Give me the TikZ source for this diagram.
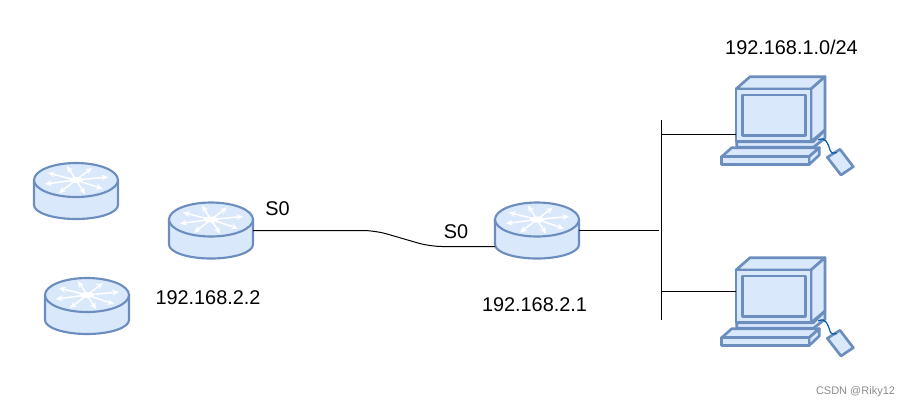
\documentclass[tikz,border=0pt]{standalone}
\usepackage{fontspec}
\setmainfont{Liberation Sans}
\usetikzlibrary{arrows.meta}
\definecolor{devfill}{HTML}{DAE8FC}
\definecolor{devline}{HTML}{6C8EBF}
\tikzset{
  devshape/.style={fill=devfill,draw=devline,line width=1.6pt,line join=round},
  pcshape/.style={devshape,line width=2pt},
  anchorbox/.style={draw=none,fill=none,inner sep=0pt,outer sep=0pt},
  routerbox/.style={anchorbox,minimum width=63pt,minimum height=42pt},
  pcbox/.style={anchorbox,minimum width=67.5pt,minimum height=75pt},
  wire/.style={draw=black,line width=0.75pt},
  tagtext/.style={font=\fontsize{14.9}{17}\selectfont,inner sep=0pt,text=black},
  wmtext/.style={font=\fontsize{8.25}{10}\selectfont,inner sep=0pt,text=black!45},
  ray/.style={draw=white,line width=1.1pt,-{Stealth[length=5pt,width=4.5pt]}},
  router/.pic={
    \path[devshape] (-42,-11) -- (-42,14) arc[start angle=180,end angle=0,x radius=42,y radius=14] -- (42,-11) -- cycle;
    \path[devshape] (0,-11) ellipse[x radius=42,y radius=17];
    \foreach \dx/\dy in {-9/-14,16/-12,32/-3,27/9,9/14,-17/13,-31/4,-28/-7}
      \draw[ray] (0,-11) -- ++(\dx,\dy);
    \fill[white] (0,-11) ellipse[x radius=7,y radius=3];
  },
  computer/.pic={
    \path[pcshape] (36,29) -- (50,16.7) -- (125,16.7) -- (111,29) -- cycle;
    \path[pcshape] (111,29) -- (125,16.7) -- (125,70) -- (111,81.7) -- cycle;
    \path[pcshape] (36,29) rectangle (111,81.7);
    \path[pcshape] (42.7,35) rectangle (105.3,75.7);
    \path[pcshape] (36.7,81.7) -- (36.7,87.3) -- (113.3,87.3) -- (125,78.3) -- (125,70) -- (113.3,81.7) -- cycle;
    \path[pcshape] (21.7,96.7) -- (31.7,87.7) -- (119.3,87.7) -- (109,96.7) -- cycle;
    \path[pcshape] (109,96.7) -- (119.3,87.7) -- (119.3,95) -- (109,104.7) -- cycle;
    \path[pcshape] (21.7,96.7) rectangle (109,104.7);
    \path[pcshape] (127.3,97.3) -- (140,89.3) -- (153.3,106.7) -- (141,115) -- cycle;
    \draw[draw=teal!70!blue,line width=0.9pt] (118.3,80) .. controls (126,76) and (128,84) .. (130,90) .. controls (131,93) and (134,94) .. (136.7,92.7);
  }
}
\begin{document}
\begin{tikzpicture}[x=0.75pt,y=-0.75pt]
\useasboundingbox (0,0) rectangle (910,408);
% routers
\node[routerbox] (r1) at (76,191) {};
\node[routerbox] (r2) at (87,306) {};
\node[routerbox] (r3) at (211,230.5) {};
\node[routerbox] (r4) at (537,230.5) {};
\pic at (r1.center) {router};
\pic at (r2.center) {router};
\pic at (r3.center) {router};
\pic at (r4.center) {router};
% computers
\node[pcbox] (pc1) at (781,127) {};
\node[pcbox] (pc2) at (781,308) {};
\pic at (700,60) {computer};
\pic at (700,241) {computer};
% bus
\coordinate (bustop) at (661.5,120);
\coordinate (busbot) at (661.5,320);
\coordinate (busa) at (661.5,134.5);
\coordinate (busb) at (661.5,291.5);
\coordinate (busin) at (659,230.5);
\coordinate (bend1) at (375,230.5);
\coordinate (bend2) at (430,246.5);
\draw[wire] (bustop) -- (busbot);
\draw[wire] (busa) -- (busa -| pc1.west);
\draw[wire] (busb) -- (busb -| pc2.west);
\draw[wire] (r4.east) -- (busin);
\draw[wire,rounded corners=9pt] (r3.east) -- (bend1) -- (bend2) -- ([yshift=-12pt]r4.west);
% labels
\node[tagtext] (t1) at (791.5,47) {192.168.1.0/24};
\node[tagtext] (t2) at (277.5,209) {S0};
\node[tagtext] (t3) at (456,232) {S0};
\node[tagtext] (t4) at (208,298) {192.168.2.2};
\node[tagtext] (t5) at (534.5,305) {192.168.2.1};
\node[wmtext] (wm) at (855.5,392) {CSDN @Riky12};
\end{tikzpicture}
\end{document}
